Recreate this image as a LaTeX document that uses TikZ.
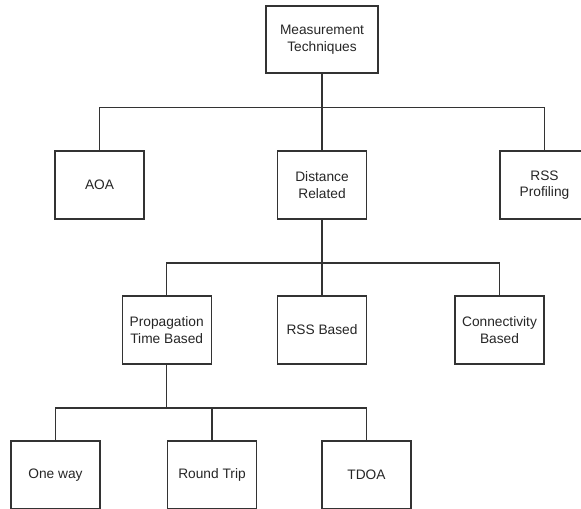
\documentclass[tikz,border=0pt]{standalone}
\usepackage{fontspec}
\setmainfont{Liberation Sans}
\begin{document}
\begin{tikzpicture}[x=0.75pt,y=-0.75pt,
  box/.style={draw=black!80, line width=1pt, fill=white, outer sep=0pt, inner sep=2pt,
    minimum width=66.75pt, minimum height=51pt, align=center, text=black!85,
    font=\fontsize{10.3}{12.5}\selectfont},
  link/.style={draw=black!80, line width=1pt}]
\useasboundingbox (0,0) rectangle (581,508);
\fill[white] (0,0) rectangle (581,508);
\clip (0,0) rectangle (581,508);
\node[box, minimum width=84pt, minimum height=50.25pt] (top) at (322,39.5) {Measurement\\Techniques};
\node[box] (aoa) at (99.5,185) {AOA};
\node[box] (dist) at (322,185) {Distance\\Related};
\node[box] (rssp) at (544.5,185) {RSS\\Profiling};
\node[box] (prop) at (166.7,330) {Propagation\\Time Based};
\node[box] (rssb) at (322,330) {RSS Based};
\node[box] (conn) at (499.5,330) {Connectivity\\Based};
\node[box] (oneway) at (55.5,475) {One way};
\node[box] (round) at (212,475) {Round Trip};
\node[box] (tdoa) at (366.5,475) {TDOA};
\coordinate (b1) at (0,107.5);
\coordinate (b2) at (0,263);
\coordinate (b3) at (0,408);
\draw[link] (aoa.north) |- (b1 -| top) -| (rssp.north);
\draw[link] (top.south) -- (dist.north);
\draw[link] (prop.north) |- (b2 -| dist) -| (conn.north);
\draw[link] (dist.south) -- (rssb.north);
\draw[link] (oneway.north) |- (b3 -| prop) -| (tdoa.north);
\draw[link] (prop.south) -- (prop.south |- b3);
\draw[link] (round.north) -- (round.north |- b3);
\end{tikzpicture}
\end{document}
